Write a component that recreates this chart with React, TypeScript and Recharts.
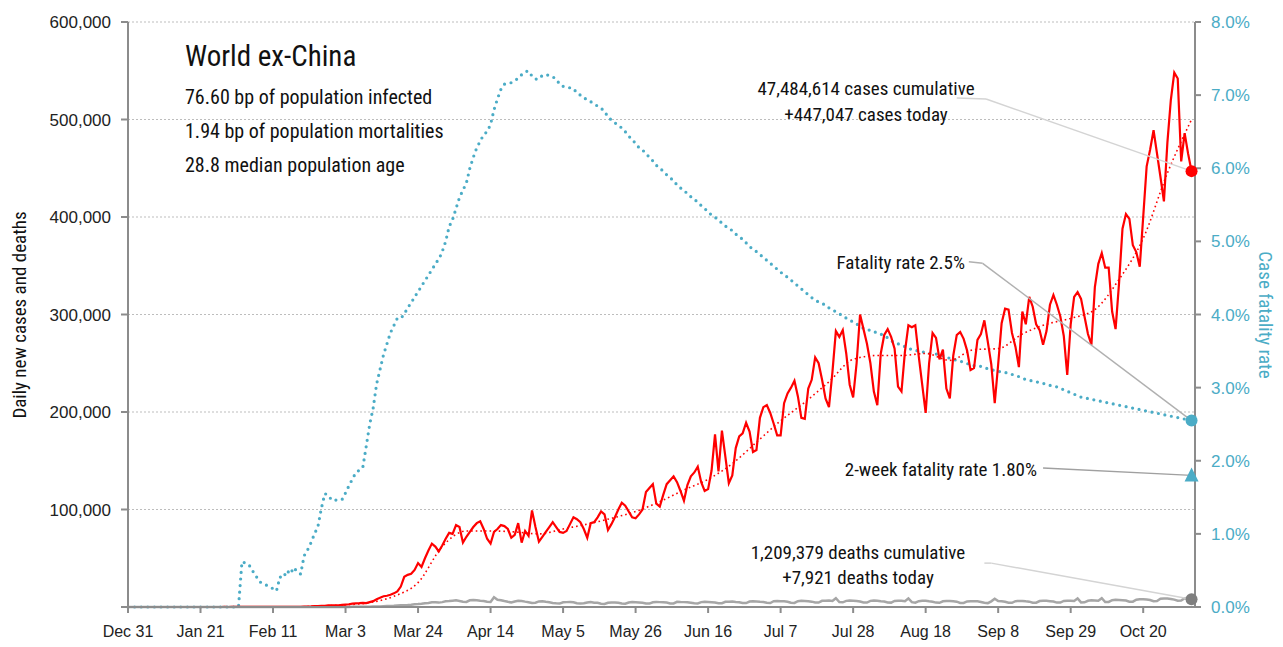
import {
  CartesianGrid,
  ComposedChart,
  Line,
  ReferenceDot,
  ReferenceLine,
  XAxis,
  YAxis,
} from 'recharts';

// day 0 = Dec 31, values for new cases / deaths in thousands, fatality rate in %
const tickDays = [0, 21, 42, 63, 84, 105, 126, 147, 168, 189, 210, 231, 252, 273, 294];
const tickLabels = [
  'Dec 31', 'Jan 21', 'Feb 11', 'Mar 3', 'Mar 24', 'Apr 14', 'May 5', 'May 26',
  'Jun 16', 'Jul 7', 'Jul 28', 'Aug 18', 'Sep 8', 'Sep 29', 'Oct 20',
];

const dailyCases = [
  0, 0, 0, 0, 0, 0, 0, 0, 0, 0,
  0, 0, 0, 0, 0, 0, 0, 0, 0, 0,
  0, 0.01, 0.005, 0.01, 0.01, 0.02, 0.02, 0.02, 0.03, 0.02,
  0.03, 0.03, 0.03, 0.04, 0.03, 0.04, 0.05, 0.04, 0.05, 0.04,
  0.05, 0.03, 0.06, 0.05, 0.1, 0.08, 0.12, 0.1, 0.15, 0.2,
  0.25, 0.4, 0.5, 0.6, 0.8, 1.0, 1.2, 1.3, 1.6, 1.8,
  1.7, 1.8, 2.2, 2.5, 2.8, 3.5, 3.8, 3.9, 4.2, 4.0,
  5, 6, 8, 9.5, 11, 11.5, 12.5, 14, 16, 21,
  31, 33, 34, 38, 45, 41, 50, 58, 65, 62,
  57, 63, 70, 76, 75, 84, 82, 66, 72, 77,
  82, 86, 88, 80, 70, 65, 77, 80, 84, 83,
  80, 71, 74, 86, 66, 78, 73, 99, 82, 67,
  72, 77, 82, 87, 82, 77, 76, 78, 85, 92,
  90, 87, 80, 71, 86, 87, 92, 98, 95, 79,
  85, 92, 100, 107, 104, 98, 92, 91, 95, 100,
  118, 122, 126, 106, 103, 115, 126, 130, 134, 128,
  119, 109, 125, 134, 138, 144, 128, 119, 121, 140,
  177, 139, 181, 154, 127, 135, 163, 175, 178, 189,
  180, 159, 161, 194, 205, 207, 199, 188, 176, 176,
  209, 219, 225, 232, 216, 194, 193, 224, 233, 256,
  250, 233, 214, 205, 241, 283, 277, 284, 260, 228,
  215, 250, 300, 285, 270, 250, 221, 207, 260, 279,
  285, 277, 265, 226, 221, 262, 289, 287, 289, 257,
  228, 199, 250, 281, 276, 254, 264, 224, 214, 258,
  279, 282, 275, 263, 243, 245, 274, 280, 294, 272,
  249, 209, 249, 291, 306, 305, 281, 267, 246, 303,
  290, 318, 308, 290, 284, 269, 283, 310, 320, 310,
  298, 278, 238, 290, 318, 323, 316, 298, 280, 269,
  328, 352, 363, 348, 348, 303, 285, 332, 388, 403,
  398, 371, 364, 349, 400, 452, 469, 489, 465, 441,
  416, 476, 520, 548, 542, 457, 486, 465, 447,
];

// smoothed cases, read once a week (every 7th day)
const weeklyTrend = [
  0, 0, 0, 0, 0.01, 0.03, 0.05, 0.15, 0.9, 2.2,
  4.5, 11, 25, 62, 78, 78, 77, 75, 80, 85,
  91, 98, 108, 120, 131, 147, 169, 191, 210, 231,
  254, 258, 258, 260, 253, 264, 265, 280, 290, 296,
  305, 336, 378, 445, 500,
];

const dailyDeaths = [
  0, 0, 0, 0, 0, 0, 0, 0, 0, 0,
  0, 0, 0, 0, 0, 0, 0, 0, 0, 0,
  0, 0, 0, 0, 0, 0, 0, 0, 0, 0,
  0, 0, 0, 0, 0, 0, 0, 0, 0, 0,
  0, 0, 0, 0, 0, 0, 0, 0, 0, 0,
  0, 0.01, 0.01, 0.02, 0.02, 0.03, 0.03, 0.04, 0.05, 0.05,
  0.05, 0.06, 0.08, 0.1, 0.1, 0.15, 0.2, 0.2, 0.25, 0.3,
  0.35, 0.4, 0.5, 0.6, 0.8, 0.9, 1.0, 1.2, 1.5, 1.7,
  1.9, 2.1, 2.4, 2.8, 3.0, 3.3, 3.9, 4.2, 4.9, 4.8,
  4.5, 5.0, 5.8, 6.1, 6.5, 6.9, 6.2, 5.5, 5.2, 6.9,
  7.2, 7.0, 6.5, 6.2, 5.3, 5.1, 10.0, 7.5, 7.0, 6.1,
  5.3, 4.6, 5.6, 6.3, 6.2, 5.5, 4.9, 4.2, 4.4, 5.7,
  5.8, 5.3, 4.9, 4.2, 3.8, 3.5, 4.8, 5.0, 5.2, 4.8,
  3.9, 3.6, 3.8, 4.7, 5.1, 4.4, 4.3, 3.4, 3.1, 4.4,
  4.6, 4.5, 4.3, 3.6, 3.4, 4.6, 5.0, 4.8, 4.6, 4.4,
  3.7, 3.5, 4.9, 5.2, 5.0, 4.8, 4.5, 3.7, 3.6, 5.3,
  5.1, 5.0, 4.8, 4.4, 3.9, 3.7, 5.0, 5.3, 5.2, 4.9,
  4.6, 3.9, 3.9, 5.4, 5.5, 5.6, 5.2, 4.9, 4.1, 4.0,
  5.6, 5.8, 5.7, 5.3, 5.1, 4.3, 4.1, 5.9, 6.2, 6.0,
  5.8, 5.4, 4.3, 4.2, 6.0, 6.4, 6.2, 6.0, 5.5, 4.6,
  4.5, 6.3, 6.5, 6.6, 6.1, 9.0, 5.0, 4.8, 6.3, 6.6,
  6.5, 6.2, 5.6, 4.7, 4.6, 6.3, 6.6, 6.5, 6.0, 5.6,
  4.7, 4.5, 6.2, 6.4, 6.5, 6.0, 8.8, 5.0, 4.4, 6.0,
  6.3, 6.3, 5.8, 5.4, 4.5, 4.3, 5.9, 6.1, 6.2, 5.9,
  5.5, 4.2, 4.1, 5.7, 6.0, 6.0, 5.8, 5.2, 4.3, 4.0,
  5.8, 8.5, 6.2, 5.8, 5.3, 4.4, 4.3, 6.0, 6.2, 6.2,
  5.8, 5.5, 4.4, 4.4, 6.1, 6.4, 6.4, 6.0, 5.6, 4.5,
  4.6, 6.2, 6.5, 6.5, 6.2, 8.7, 4.7, 4.8, 6.4, 6.8,
  6.6, 6.4, 9.0, 5.1, 5.2, 7.0, 7.4, 7.3, 7.0, 6.6,
  5.4, 5.5, 7.5, 8.0, 7.9, 7.7, 7.2, 6.0, 6.1, 8.4,
  8.8, 8.6, 8.3, 7.6, 6.4, 6.6, 8.9, 9.2, 7.921,
];

const fatalityRate = [
  0, 0, 0, 0, 0, 0, 0, 0, 0, 0,
  0, 0, 0, 0, 0, 0, 0, 0, 0, 0,
  0, 0, 0, 0, 0, 0, 0, 0, 0, 0,
  0, 0, 0, 0.62, 0.6, 0.58, 0.5, 0.43, 0.35, 0.32,
  0.3, 0.28, 0.25, 0.22, 0.41, 0.4, 0.5, 0.45, 0.54, 0.48,
  0.45, 0.7, 0.78, 0.88, 1.0, 1.1, 1.35, 1.55, 1.53, 1.46,
  1.46, 1.47, 1.47, 1.56, 1.66, 1.75, 1.84, 1.87, 1.91, 2.2,
  2.5, 2.72, 3.05, 3.25, 3.45, 3.6, 3.75, 3.85, 3.95, 3.95,
  4.0, 4.1, 4.15, 4.25, 4.3, 4.4, 4.45, 4.55, 4.6, 4.7,
  4.75, 4.86, 5.0, 5.2, 5.3, 5.45, 5.6, 5.7, 5.8, 6.0,
  6.15, 6.28, 6.37, 6.46, 6.5, 6.6, 6.8, 6.95, 7.08, 7.15,
  7.16, 7.17, 7.2, 7.23, 7.28, 7.32, 7.33, 7.26, 7.22, 7.22,
  7.27, 7.28, 7.27, 7.25, 7.22, 7.15, 7.12, 7.11, 7.1, 7.09,
  7.03, 7.0, 6.96, 6.94, 6.91, 6.88, 6.85, 6.82, 6.78, 6.7,
  6.66, 6.62, 6.59, 6.55, 6.5, 6.44, 6.39, 6.34, 6.28, 6.25,
  6.2, 6.15, 6.1, 6.04, 6.0, 5.96, 5.91, 5.87, 5.83, 5.77,
  5.73, 5.7, 5.65, 5.61, 5.58, 5.53, 5.49, 5.45, 5.4, 5.36,
  5.33, 5.29, 5.25, 5.21, 5.17, 5.15, 5.1, 5.06, 5.03, 4.98,
  4.93, 4.89, 4.86, 4.82, 4.78, 4.74, 4.7, 4.66, 4.62, 4.58,
  4.54, 4.51, 4.47, 4.43, 4.39, 4.35, 4.31, 4.27, 4.23, 4.2,
  4.17, 4.15, 4.13, 4.09, 4.06, 4.04, 4.01, 3.98, 3.95, 3.92,
  3.9, 3.87, 3.84, 3.81, 3.8, 3.78, 3.77, 3.74, 3.73, 3.72,
  3.68, 3.64, 3.62, 3.6, 3.58, 3.56, 3.54, 3.52, 3.51, 3.5,
  3.49, 3.48, 3.47, 3.47, 3.46, 3.45, 3.44, 3.42, 3.4, 3.39,
  3.37, 3.36, 3.35, 3.33, 3.31, 3.3, 3.3, 3.29, 3.27, 3.26,
  3.25, 3.23, 3.22, 3.22, 3.21, 3.19, 3.18, 3.17, 3.15, 3.13,
  3.11, 3.1, 3.09, 3.08, 3.07, 3.06, 3.04, 3.03, 3.02, 3.01,
  2.99, 2.97, 2.95, 2.93, 2.91, 2.89, 2.87, 2.86, 2.85, 2.84,
  2.83, 2.82, 2.81, 2.8, 2.79, 2.78, 2.77, 2.76, 2.75, 2.74,
  2.73, 2.72, 2.71, 2.7, 2.69, 2.68, 2.67, 2.66, 2.65, 2.64,
  2.63, 2.62, 2.61, 2.6, 2.59, 2.58, 2.57, 2.56, 2.55,
];

const lastDay = 308;
const casesToday = 447.047;
const deathsToday = 7.921;
const fatalityToday = 2.55;
const twoWeekFatality = 1.8;

const infoLines = [
  '76.60 bp of population infected',
  '1.94 bp of population mortalities',
  '28.8 median population age',
];

const data = dailyCases.map((c, day) => ({
  day,
  cases: c,
  deaths: dailyDeaths[day],
  cfr: fatalityRate[day],
  trend: day % 7 === 0 ? weeklyTrend[day / 7] : null,
}));

const TEAL = '#4bacc6';
const RED = '#ff0000';
const AXIS = '#8c8c8c';
const NARROW = "'Roboto Condensed', 'Liberation Sans Narrow', 'DejaVu Sans Condensed', 'Arial Narrow', sans-serif";
const TICK_FONT = "'Liberation Sans', Arial, sans-serif";

function Triangle(props: any) {
  const { cx, cy } = props;
  return <polygon points={`${cx},${cy - 8} ${cx - 7},${cy + 6} ${cx + 7},${cy + 6}`} fill={TEAL} />;
}

export default function App() {
  return (
    <div style={{ position: 'absolute', left: 0, top: 0, width: 1283, height: 647, background: '#fff' }}>
      <ComposedChart
        width={1283}
        height={647}
        data={data}
        margin={{ top: 22, right: 28, bottom: 10, left: 50 }}
      >
        <CartesianGrid vertical={false} yAxisId="left" stroke="#bdbdbd" strokeDasharray="2 2" />
        <XAxis
          dataKey="day"
          type="number"
          domain={[0, 309]}
          ticks={tickDays}
          interval={0}
          tickFormatter={(d) => tickLabels[tickDays.indexOf(d)] ?? ''}
          height={30}
          stroke={AXIS}
          strokeWidth={2}
          tickSize={6}
          tickMargin={13}
          tick={{ fontSize: 16, fill: '#222', fontFamily: TICK_FONT }}
        />
        <YAxis
          yAxisId="left"
          domain={[0, 600]}
          ticks={[0, 100, 200, 300, 400, 500, 600]}
          tickFormatter={(v) => (v === 0 ? '' : `${v},000`)}
          width={78}
          stroke={AXIS}
          strokeWidth={2}
          tickSize={7}
          tickMargin={10}
          tick={{ fontSize: 17, fill: '#222', fontFamily: TICK_FONT }}
        />
        <YAxis
          yAxisId="right"
          orientation="right"
          domain={[0, 8]}
          ticks={[0, 1, 2, 3, 4, 5, 6, 7, 8]}
          tickFormatter={(v) => `${Number(v).toFixed(1)}%`}
          width={60}
          stroke={AXIS}
          strokeWidth={2}
          tickSize={6}
          tickMargin={10}
          tick={{ fontSize: 17, fill: TEAL, fontFamily: TICK_FONT }}
        />
        <Line
          yAxisId="right"
          dataKey="cfr"
          stroke={TEAL}
          strokeWidth={3.2}
          strokeDasharray="0 6.6"
          strokeLinecap="round"
          dot={false}
          isAnimationActive={false}
        />
        <Line
          yAxisId="left"
          dataKey="deaths"
          stroke="#a6a6a6"
          strokeWidth={2.5}
          dot={false}
          isAnimationActive={false}
        />
        <Line
          yAxisId="left"
          dataKey="trend"
          type="monotone"
          connectNulls
          stroke={RED}
          strokeWidth={1.6}
          strokeDasharray="1.6 3"
          dot={false}
          isAnimationActive={false}
        />
        <Line
          yAxisId="left"
          dataKey="cases"
          stroke={RED}
          strokeWidth={2.2}
          dot={false}
          isAnimationActive={false}
        />
        <ReferenceLine yAxisId="left" segment={[{ x: 240, y: 522 }, { x: 248.5, y: 521 }]} stroke="#d4d4d4" strokeWidth={1.5} ifOverflow="visible" />
        <ReferenceLine yAxisId="left" segment={[{ x: 248.5, y: 521 }, { x: lastDay, y: casesToday }]} stroke="#d4d4d4" strokeWidth={1.5} ifOverflow="visible" />
        <ReferenceLine yAxisId="right" segment={[{ x: 243.5, y: 4.72 }, { x: 247.5, y: 4.7 }]} stroke="#b0b0b0" strokeWidth={1.5} ifOverflow="visible" />
        <ReferenceLine yAxisId="right" segment={[{ x: 247.5, y: 4.7 }, { x: lastDay, y: fatalityToday }]} stroke="#b0b0b0" strokeWidth={1.5} ifOverflow="visible" />
        <ReferenceLine yAxisId="right" segment={[{ x: 265, y: 1.9 }, { x: lastDay, y: twoWeekFatality }]} stroke="#a0a0a0" strokeWidth={1.5} ifOverflow="visible" />
        <ReferenceLine yAxisId="left" segment={[{ x: 248, y: 45 }, { x: 250, y: 45 }]} stroke="#d4d4d4" strokeWidth={1.5} ifOverflow="visible" />
        <ReferenceLine yAxisId="left" segment={[{ x: 250, y: 45 }, { x: lastDay, y: deathsToday }]} stroke="#d4d4d4" strokeWidth={1.5} ifOverflow="visible" />
        <ReferenceDot yAxisId="left" x={lastDay} y={casesToday} r={6} fill={RED} stroke="none" />
        <ReferenceDot yAxisId="left" x={lastDay} y={deathsToday} r={6} fill="#7f7f7f" stroke="none" />
        <ReferenceDot yAxisId="right" x={lastDay} y={fatalityToday} r={6} fill={TEAL} stroke="none" />
        <ReferenceDot yAxisId="right" x={lastDay} y={twoWeekFatality} r={6} shape={Triangle} />
      </ComposedChart>
      <svg
        width={1283}
        height={647}
        style={{ position: 'absolute', left: 0, top: 0, pointerEvents: 'none' }}
      >
        <g fontFamily={NARROW} fill="#111">
          <text x={185} y={66} fontSize={29}>World ex-China</text>
          {infoLines.map((t, i) => (
            <text key={t} x={185} y={104 + i * 34} fontSize={20}>{t}</text>
          ))}
          <text x={866} y={95} fontSize={19} textAnchor="middle">47,484,614 cases cumulative</text>
          <text x={866} y={121} fontSize={19} textAnchor="middle">+447,047 cases today</text>
          <text x={965} y={269} fontSize={19} textAnchor="end">Fatality rate 2.5%</text>
          <text x={1037} y={476} fontSize={19} textAnchor="end">2-week fatality rate 1.80%</text>
          <text x={858} y={559} fontSize={19} textAnchor="middle">1,209,379 deaths cumulative</text>
          <text x={858} y={584} fontSize={19} textAnchor="middle">+7,921 deaths today</text>
          <text
            x={26}
            y={315}
            fontSize={19}
            textAnchor="middle"
            transform="rotate(-90 26 315)"
          >
            Daily new cases and deaths
          </text>
          <text
            x={1259}
            y={315}
            fontSize={19}
            fill={TEAL}
            textAnchor="middle"
            transform="rotate(90 1259 315)"
          >
            Case fatality rate
          </text>
        </g>
      </svg>
    </div>
  );
}
